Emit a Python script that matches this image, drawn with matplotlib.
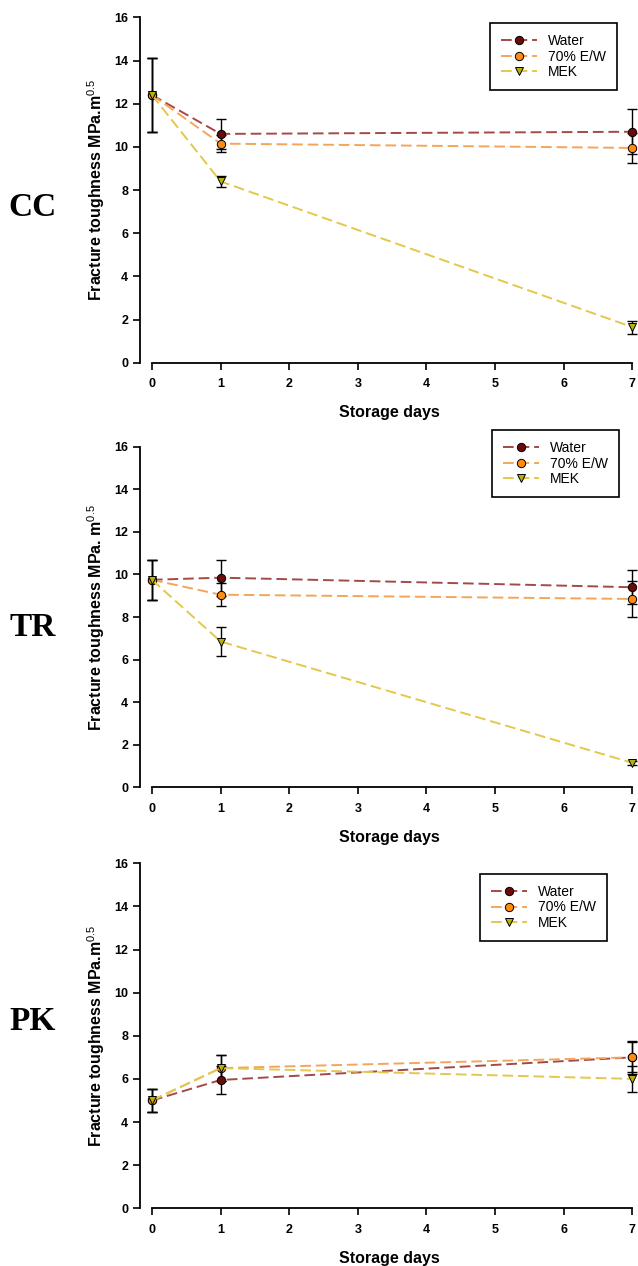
import numpy as np
import matplotlib
matplotlib.use('Agg')
import matplotlib.pyplot as plt

matplotlib.rcParams['font.family'] = 'Liberation Sans'
matplotlib.rcParams['mathtext.fontset'] = 'custom'
matplotlib.rcParams['mathtext.rm'] = 'Liberation Sans'
matplotlib.rcParams['mathtext.bf'] = 'Liberation Sans:bold'

# data
days = [0, 1, 7]
series = ['Water', '70% E/W', 'MEK']

cc_mean = {'Water': [12.4, 10.6, 10.7], '70% E/W': [12.4, 10.15, 9.95], 'MEK': [12.4, 8.4, 1.65]}
cc_err = {'Water': [1.7, 0.7, 1.05], '70% E/W': [1.7, 0.4, 0.7], 'MEK': [1.7, 0.25, 0.3]}

tr_mean = {'Water': [9.75, 9.85, 9.4], '70% E/W': [9.75, 9.05, 8.85], 'MEK': [9.75, 6.85, 1.15]}
tr_err = {'Water': [0.95, 0.85, 0.8], '70% E/W': [0.95, 0.55, 0.85], 'MEK': [0.95, 0.68, 0.1]}

pk_mean = {'Water': [5.0, 5.95, 7.0], '70% E/W': [5.0, 6.5, 7.0], 'MEK': [5.0, 6.5, 6.0]}
pk_err = {'Water': [0.55, 0.65, 0.7], '70% E/W': [0.55, 0.6, 0.75], 'MEK': [0.55, 0.6, 0.6]}

panel_names = ['CC', 'TR', 'PK']
ylabels = [r'Fracture toughness MPa.m$^{0.5}$',
           r'Fracture toughness MPa. m$^{0.5}$',
           r'Fracture toughness MPa.m$^{0.5}$']

line_cols = {'Water': '#a34a47', '70% E/W': '#f5a55a', 'MEK': '#e2c84c'}
face_cols = {'Water': '#6a0a0a', '70% E/W': '#ff8c10', 'MEK': '#b7b10a'}
markers = {'Water': 'o', '70% E/W': 'o', 'MEK': 'v'}

fig = plt.figure(figsize=(6.38, 12.66), dpi=100)

# axes boxes [left, bottom, width, height] in figure fraction
boxes = [[0.2194, 0.7135, 0.7806, 0.2728],
         [0.2194, 0.3781, 0.7806, 0.2690],
         [0.2194, 0.0456, 0.7806, 0.2725]]
legend_anchor = [(0.958, 0.9835), (0.962, 1.049), (0.938, 0.969)]
label_y = [1266 - 207, 1266 - 628, 1266 - 1022]

means = [cc_mean, tr_mean, pk_mean]
errs = [cc_err, tr_err, pk_err]

for i in range(3):
    ax = fig.add_axes(boxes[i])
    for s in series:
        ax.errorbar(days, means[i][s], yerr=errs[i][s], fmt='none', ecolor='black',
                    elinewidth=1.0, capsize=3.6, capthick=1.0, zorder=2, clip_on=False)
    for s in series:
        ax.plot(days, means[i][s], ls=(0, (5.5, 2.5)), lw=1.4, color=line_cols[s],
                marker=markers[s], markersize=6, markerfacecolor=face_cols[s],
                markeredgecolor='black', markeredgewidth=0.7, label=s, zorder=3, clip_on=False)

    ax.set_xlim(-0.175, 7.083)
    ax.set_ylim(0, 16)
    ax.set_xticks(range(8))
    ax.set_yticks(range(0, 17, 2))
    ax.spines['top'].set_visible(False)
    ax.spines['right'].set_visible(False)
    ax.spines['left'].set_bounds(0, 16)
    ax.spines['bottom'].set_bounds(0, 7)
    ax.spines['left'].set_linewidth(1.3)
    ax.spines['bottom'].set_linewidth(1.3)
    ax.tick_params(direction='out', length=5, width=1.2, labelsize=9)
    for lab in ax.get_xticklabels() + ax.get_yticklabels():
        lab.set_fontweight('bold')
    ax.tick_params(axis='x', pad=6)
    ax.set_xlabel('Storage days', fontsize=11.5, fontweight='bold', labelpad=11)
    ax.set_ylabel(ylabels[i], fontsize=11.5, fontweight='bold', labelpad=5)

    leg = ax.legend(loc='upper right', bbox_to_anchor=legend_anchor[i], borderaxespad=0,
                    fontsize=10, fancybox=False, edgecolor='black', framealpha=1,
                    handlelength=2.6, labelspacing=0.1, borderpad=0.8, handletextpad=0.8)
    leg.get_frame().set_linewidth(1.2)

    fig.text(33 / 638, label_y[i] / 1266, panel_names[i], fontsize=24, fontweight='bold',
             family='Liberation Serif', ha='center', va='center')

plt.savefig('out.png', dpi=100)
